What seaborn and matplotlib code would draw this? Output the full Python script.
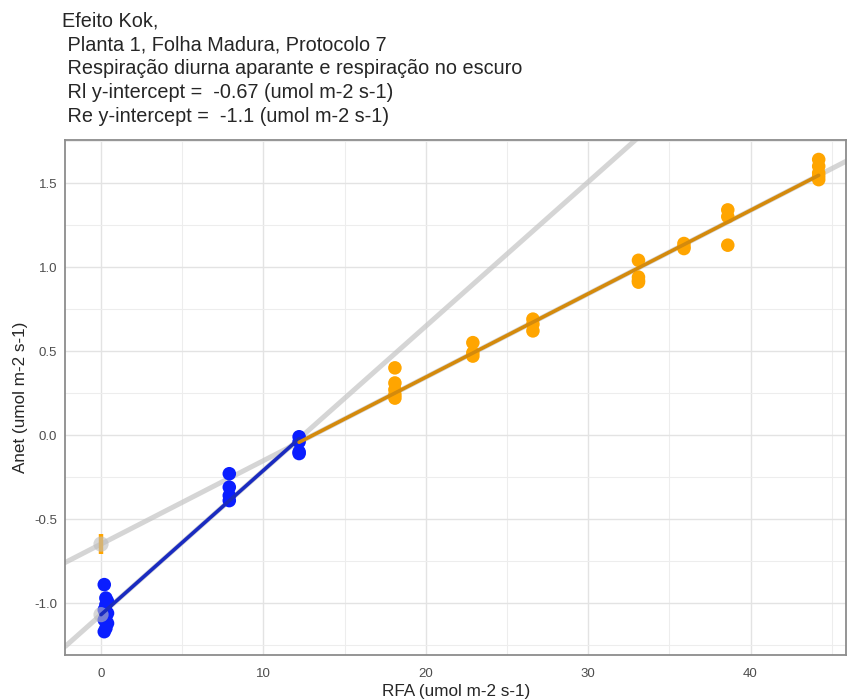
import matplotlib
matplotlib.use("Agg")
import matplotlib.pyplot as plt
import seaborn as sns
import numpy as np
import pandas as pd
from matplotlib.ticker import MultipleLocator

# light response readings (PAR vs net assimilation)
re_par = [0.2, 0.3, 0.4, 0.3, 0.2, 0.4, 0.3, 0.2, 0.4, 0.3, 0.2,
          7.9, 7.9, 7.9, 7.9,
          12.2, 12.2, 12.2, 12.2]
re_anet = [-0.89, -0.97, -0.99, -1.01, -1.04, -1.06, -1.08, -1.10, -1.12, -1.15, -1.17,
           -0.23, -0.31, -0.36, -0.39,
           -0.01, -0.04, -0.10, -0.11]

rl_par = [18.1, 18.1, 18.1, 18.1, 18.1,
          22.9, 22.9, 22.9,
          26.6, 26.6, 26.6,
          33.1, 33.1, 33.1, 33.1,
          35.9, 35.9, 35.9,
          38.6, 38.6, 38.6,
          44.2, 44.2, 44.2, 44.2, 44.2]
rl_anet = [0.40, 0.31, 0.27, 0.24, 0.22,
           0.55, 0.49, 0.47,
           0.69, 0.66, 0.62,
           1.04, 0.94, 0.92, 0.91,
           1.14, 1.12, 1.11,
           1.34, 1.30, 1.13,
           1.64, 1.60, 1.56, 1.54, 1.52]

# the kok break point (12.2) is shared by both fits
kok_break = 12.2
rl_se = 0.06

title_lines = [
    "Efeito Kok,",
    " Planta 1, Folha Madura, Protocolo 7",
    " Respiração diurna aparante e respiração no escuro",
    " Rl y-intercept =  -0.67 (umol m-2 s-1)",
    " Re y-intercept =  -1.1 (umol m-2 s-1)",
]

re_df = pd.DataFrame({"RFA": re_par, "Anet": re_anet})
rl_df = pd.DataFrame({"RFA": rl_par, "Anet": rl_anet})
rl_fit_df = pd.concat([re_df[re_df["RFA"] >= kok_break], rl_df])

re_slope, re_int = np.polyfit(re_df["RFA"], re_df["Anet"], 1)
rl_slope, rl_int = np.polyfit(rl_fit_df["RFA"], rl_fit_df["Anet"], 1)

sns.set_theme(style="whitegrid")
plt.rcParams['font.family'] = ['Liberation Sans', 'DejaVu Sans']

fig = plt.figure(figsize=(8.48, 7.0), dpi=100)
ax = fig.add_axes([0.077, 0.064, 0.921, 0.736])

xlim = (-2.2, 45.9)
ylim = (-1.31, 1.756)
ax.set_xlim(*xlim)
ax.set_ylim(*ylim)

# extended fits in grey
sns.regplot(x="RFA", y="Anet", data=rl_fit_df, ax=ax, scatter=False, ci=None,
            truncate=False, line_kws=dict(color="#C4C4C4", lw=3.6, alpha=0.7, zorder=1))
sns.regplot(x="RFA", y="Anet", data=re_df, ax=ax, scatter=False, ci=None,
            truncate=False, line_kws=dict(color="#C4C4C4", lw=3.6, alpha=0.7, zorder=1))

# points
sns.scatterplot(x="RFA", y="Anet", data=re_df, ax=ax, color="#0A1EFF", s=95,
                edgecolor="none", zorder=3)
sns.scatterplot(x="RFA", y="Anet", data=rl_df, ax=ax, color="#FFA500", s=95,
                edgecolor="none", zorder=3)

# intercepts
ax.errorbar([0], [rl_int], yerr=[rl_se], color="#FFA500", lw=3.2, zorder=2)
sns.scatterplot(x=[0, 0], y=[rl_int, re_int], ax=ax, color="#BDBDBD", s=120,
                alpha=0.6, edgecolor="none", zorder=4)

# fitted segments
gx = np.linspace(0, kok_break, 50)
sns.lineplot(x=gx, y=re_int + re_slope * gx, ax=ax, color="#1A2BC0", lw=2.6, zorder=5)
gx = np.linspace(kok_break, max(rl_par), 50)
sns.lineplot(x=gx, y=rl_int + rl_slope * gx, ax=ax, color="#D48A0C", lw=2.6, zorder=5)

ax.set_xlim(*xlim)
ax.set_ylim(*ylim)

ax.xaxis.set_major_locator(MultipleLocator(10))
ax.xaxis.set_minor_locator(MultipleLocator(5))
ax.yaxis.set_major_locator(MultipleLocator(0.5))
ax.yaxis.set_minor_locator(MultipleLocator(0.25))
ax.set_yticklabels([f"{t:.1f}" for t in ax.get_yticks()])
ax.grid(which="major", color="#E3E3E3", lw=1.0)
ax.grid(which="minor", color="#EDEDED", lw=0.8)
ax.set_facecolor("white")
for s in ax.spines.values():
    s.set_color("#8C8C8C")
    s.set_linewidth(1.3)
ax.tick_params(axis="both", which="major", length=3, width=0.9, color="#8C8C8C",
               labelsize=9.5, labelcolor="#4D4D4D")
ax.tick_params(axis="x", pad=6)
ax.tick_params(axis="y", pad=3)
ax.tick_params(which="minor", length=0)

ax.set_xlabel("RFA (umol m-2 s-1)", fontsize=12.3, labelpad=3)
ax.set_ylabel("Anet (umol m-2 s-1)", fontsize=12.3, labelpad=4)

fig.text(0.073, 0.983, "\n".join(title_lines), fontsize=14.3, va="top", ha="left",
         linespacing=1.32)

plt.savefig("out.png", dpi=100)
plt.close()
